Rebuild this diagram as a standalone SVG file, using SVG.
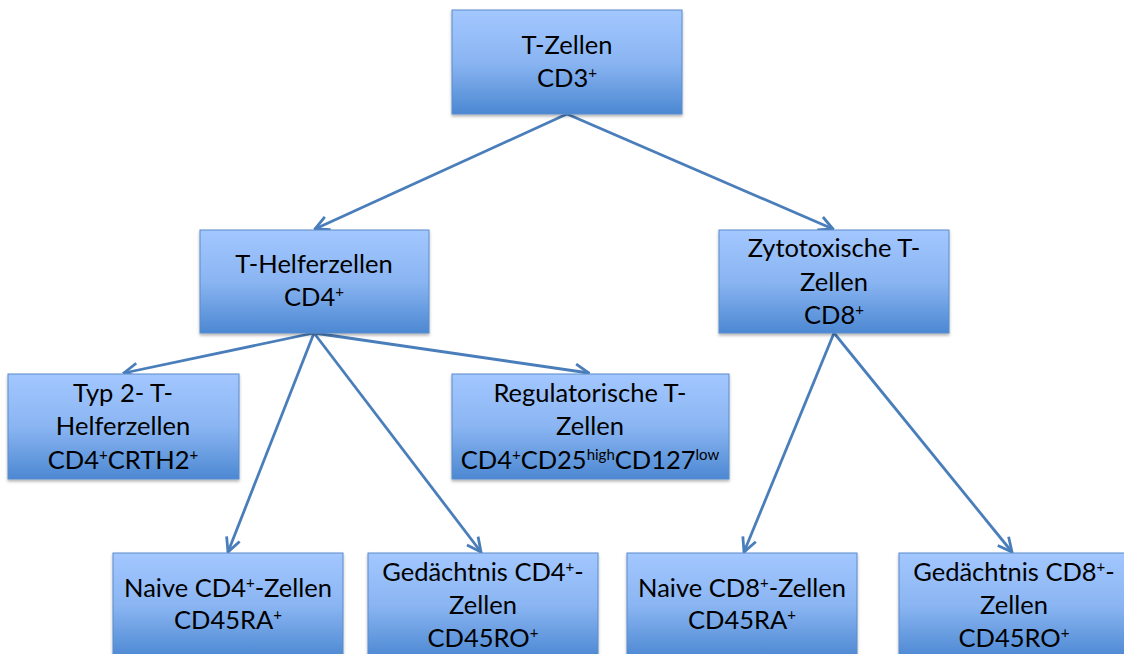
<svg xmlns="http://www.w3.org/2000/svg" width="1124" height="654" viewBox="0 0 1124 654">
<style>
.box{fill:url(#g);stroke:#5a8ccc;stroke-width:1}
.t{font-family:Lato,"Open Sans","Liberation Sans",sans-serif;font-size:25.5px;fill:#000;text-anchor:middle}
.s{font-size:15px}
.c{stroke:#4a7ebb;stroke-width:2.8;fill:none;marker-end:url(#a)}
</style>
<defs>
<linearGradient id="g" x1="0" y1="0" x2="0" y2="1">
<stop offset="0" stop-color="#a3c7ff"/>
<stop offset="0.5" stop-color="#8ab5f2"/>
<stop offset="1" stop-color="#4c88d2"/>
</linearGradient>
<marker id="a" viewBox="0 0 12 12" refX="11" refY="6" markerWidth="6" markerHeight="6" orient="auto" markerUnits="strokeWidth">
<path d="M1,1 L11,6 L1,11" fill="none" stroke="#4a7ebb" stroke-width="2"/>
</marker>
<filter id="sh" x="-5%" y="-5%" width="110%" height="120%">
<feDropShadow dx="0" dy="2" stdDeviation="1.5" flood-color="#000" flood-opacity="0.3"/>
</filter>
</defs>
<rect width="1124" height="654" fill="#fff"/>
<g id="connectors">
<line class="c" x1="567" y1="114" x2="315" y2="229"/>
<line class="c" x1="567" y1="114" x2="833" y2="229"/>
<line class="c" x1="314" y1="333" x2="124" y2="373"/>
<line class="c" x1="314" y1="333" x2="589" y2="373"/>
<line class="c" x1="314" y1="333" x2="228" y2="552"/>
<line class="c" x1="314" y1="333" x2="481" y2="552"/>
<line class="c" x1="834" y1="333" x2="744" y2="552"/>
<line class="c" x1="834" y1="333" x2="1012" y2="552"/>
</g>
<g id="n-tzellen">
<rect class="box" filter="url(#sh)" x="452" y="10" width="230" height="104"/>
<text class="t" x="567" y="54">T-Zellen</text>
<text class="t" x="567" y="87">CD3<tspan class="s" dy="-9">+</tspan></text>
</g>
<g id="n-thelfer">
<rect class="box" filter="url(#sh)" x="200" y="230" width="229" height="103"/>
<text class="t" x="314" y="273">T-Helferzellen</text>
<text class="t" x="314" y="306">CD4<tspan class="s" dy="-9">+</tspan></text>
</g>
<g id="n-zytotox">
<rect class="box" filter="url(#sh)" x="719" y="230" width="230" height="103"/>
<text class="t" x="834" y="257">Zytotoxische T-</text>
<text class="t" x="834" y="291">Zellen</text>
<text class="t" x="834" y="324">CD8<tspan class="s" dy="-9">+</tspan></text>
</g>
<g id="n-typ2">
<rect class="box" filter="url(#sh)" x="8" y="374" width="231" height="105"/>
<text class="t" x="123" y="402">Typ 2- T-</text>
<text class="t" x="123" y="435">Helferzellen</text>
<text class="t" x="123" y="469">CD4<tspan class="s" dy="-9">+</tspan><tspan dy="9">CRTH2</tspan><tspan class="s" dy="-9">+</tspan></text>
</g>
<g id="n-treg">
<rect class="box" filter="url(#sh)" x="452" y="374" width="277" height="105"/>
<text class="t" x="590" y="402">Regulatorische T-</text>
<text class="t" x="590" y="435">Zellen</text>
<text class="t" x="590" y="469">CD4<tspan class="s" dy="-9">+</tspan><tspan dy="9">CD25</tspan><tspan class="s" dy="-9">high</tspan><tspan dy="9">CD127</tspan><tspan class="s" dy="-9">low</tspan></text>
</g>
<g id="n-naive4">
<rect class="box" filter="url(#sh)" x="113" y="553" width="230" height="105"/>
<text class="t" x="228" y="597">Naive CD4<tspan class="s" dy="-9">+</tspan><tspan dy="9">-Zellen</tspan></text>
<text class="t" x="228" y="629">CD45RA<tspan class="s" dy="-9">+</tspan></text>
</g>
<g id="n-mem4">
<rect class="box" filter="url(#sh)" x="368" y="553" width="230" height="105"/>
<text class="t" x="483" y="581">Gedächtnis CD4<tspan class="s" dy="-9">+</tspan><tspan dy="9">-</tspan></text>
<text class="t" x="483" y="614">Zellen</text>
<text class="t" x="483" y="647">CD45RO<tspan class="s" dy="-9">+</tspan></text>
</g>
<g id="n-naive8">
<rect class="box" filter="url(#sh)" x="627" y="553" width="230" height="105"/>
<text class="t" x="742" y="597">Naive CD8<tspan class="s" dy="-9">+</tspan><tspan dy="9">-Zellen</tspan></text>
<text class="t" x="742" y="629">CD45RA<tspan class="s" dy="-9">+</tspan></text>
</g>
<g id="n-mem8">
<rect class="box" filter="url(#sh)" x="899" y="553" width="230" height="105"/>
<text class="t" x="1014" y="581">Gedächtnis CD8<tspan class="s" dy="-9">+</tspan><tspan dy="9">-</tspan></text>
<text class="t" x="1014" y="614">Zellen</text>
<text class="t" x="1014" y="647">CD45RO<tspan class="s" dy="-9">+</tspan></text>
</g>
</svg>
